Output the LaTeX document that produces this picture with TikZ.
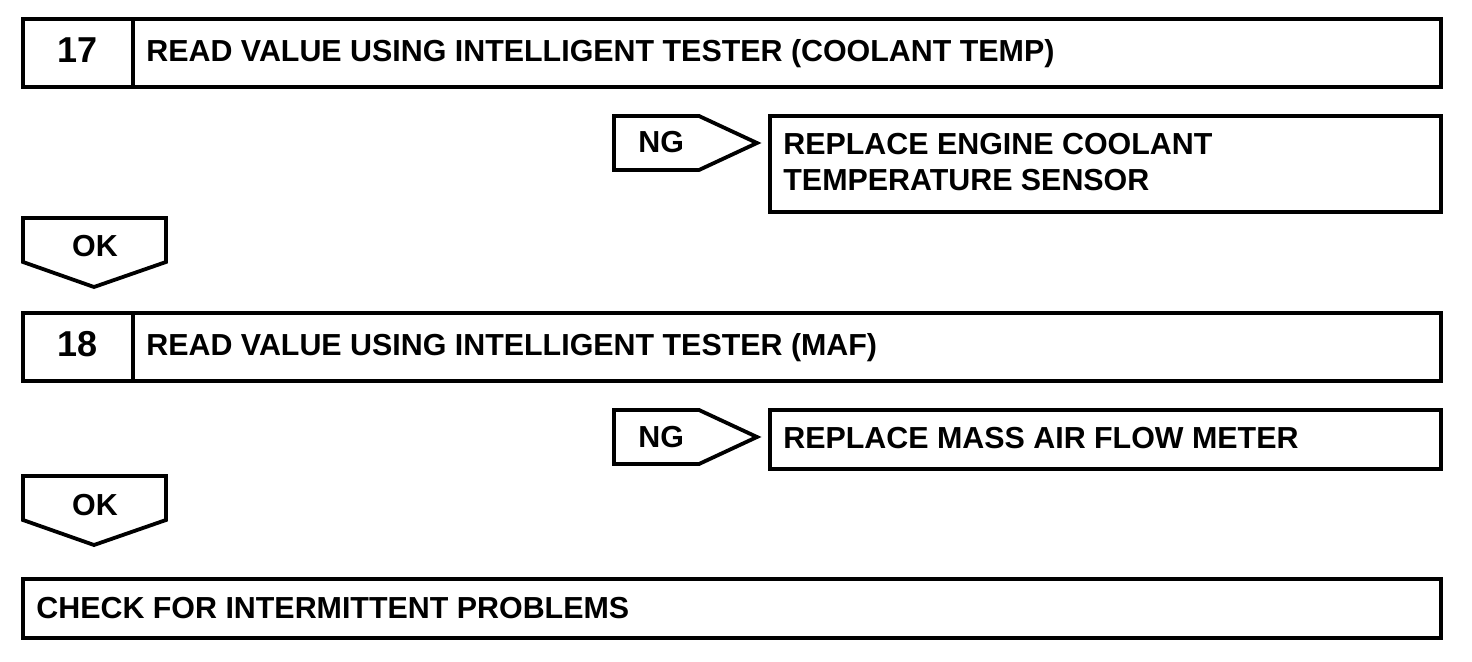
\documentclass[tikz,border=0pt]{standalone}
\usepackage{fontspec}
\setmainfont{Liberation Sans}
\begin{document}
\begin{tikzpicture}[x=0.5pt,y=-0.5pt,
  box/.style={draw=black,line width=1.9pt,line join=miter},
  lbl/.style={inner sep=0pt,font=\fontsize{15.2pt}{17.5pt}\selectfont\bfseries},
  numlbl/.style={inner sep=0pt,font=\fontsize{18pt}{21pt}\selectfont\bfseries}]
\useasboundingbox (0,0) rectangle (1472,662);
% Step 17
\draw[box] (23,19) rectangle (1441,87);
\draw[box] (133,19) -- (133,87);
\node[numlbl,anchor=base] (n17) at (78,63) {17};
\node[lbl,anchor=base west] (t17) at (146,62) {READ VALUE USING INTELLIGENT TESTER (COOLANT TEMP)};
% NG 1
\draw[box] (614,116) -- (699,116) -- (757,143) -- (699,170) -- (614,170) -- cycle;
\node[lbl,anchor=base west] (ng1) at (638,153) {NG};
\draw[box] (770,116) rectangle (1441,212);
\node[lbl,anchor=base west] (r1a) at (783,155) {REPLACE ENGINE COOLANT};
\node[lbl,anchor=base west] (r1b) at (783,191) {TEMPERATURE SENSOR};
% OK 1
\draw[box] (23,218) -- (166,218) -- (166,262) -- (94,287) -- (23,262) -- cycle;
\node[lbl,anchor=base] (ok1) at (95,257) {OK};
% Step 18
\draw[box] (23,313) rectangle (1441,381);
\draw[box] (133,313) -- (133,381);
\node[numlbl,anchor=base] (n18) at (78,357) {18};
\node[lbl,anchor=base west] (t18) at (146,356) {READ VALUE USING INTELLIGENT TESTER (MAF)};
% NG 2
\draw[box] (614,410) -- (699,410) -- (757,437) -- (699,464) -- (614,464) -- cycle;
\node[lbl,anchor=base west] (ng2) at (638,447) {NG};
\draw[box] (770,410) rectangle (1441,469);
\node[lbl,anchor=base west] (r2) at (783,449) {REPLACE MASS AIR FLOW METER};
% OK 2
\draw[box] (23,476) -- (166,476) -- (166,520) -- (94,545) -- (23,520) -- cycle;
\node[lbl,anchor=base] (ok2) at (95,515) {OK};
% Final
\draw[box] (23,579) rectangle (1441,638);
\node[lbl,anchor=base west] (fin) at (36,618) {CHECK FOR INTERMITTENT PROBLEMS};
\end{tikzpicture}
\end{document}
